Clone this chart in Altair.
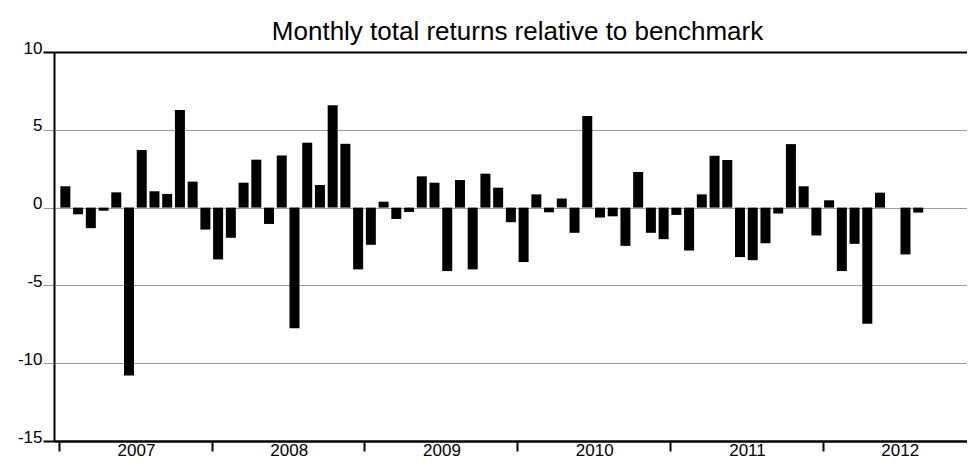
import altair as alt
import pandas as pd

# Monthly relative returns, Jan 2007 .. Aug 2012
start_year = 2007
values = [1.37, -0.43, -1.32, -0.20, 0.98, -10.79, 3.70, 1.05, 0.88, 6.28, 1.67, -1.41,
          -3.33, -1.94, 1.60, 3.08, -1.05, 3.35, -7.76, 4.17, 1.45, 6.58, 4.10, -3.97,
          -2.39, 0.38, -0.73, -0.28, 2.01, 1.60, -4.08, 1.77, -3.97, 2.18, 1.28, -0.94,
          -3.50, 0.85, -0.30, 0.58, -1.62, 5.88, -0.64, -0.56, -2.46, 2.29, -1.62, -2.03,
          -0.47, -2.76, 0.85, 3.33, 3.06, -3.18, -3.38, -2.29, -0.38, 4.08, 1.37, -1.79,
          0.47, -4.08, -2.33, -7.46, 0.96, 0.00, -3.01, -0.32]
y_ticks = [-15, -10, -5, 0, 5, 10]
year_ticks = [0, 12, 24, 36, 48, 60]

df = pd.DataFrame({"idx": list(range(len(values))), "ret": values})

FONT = "Liberation Sans"
EDGE = "datum.value == 10 || datum.value == -15"

chart = alt.Chart(df).transform_calculate(
    mid="datum.idx + 0.5"
).mark_bar(color="black", width=10).encode(
    x=alt.X("mid:Q",
            scale=alt.Scale(domain=[0, 70.94], nice=False, zero=False),
            axis=alt.Axis(values=year_ticks, title=None,
                          labelExpr=f"'' + ({start_year} + datum.value / 12)",
                          labelOffset=77, labelFlush=False, labelOverlap=False,
                          labelBound=False, labelPadding=-9,
                          tickSize=10, tickWidth=2, tickColor="black",
                          domainColor="black", domainWidth=2, grid=False,
                          labelFontSize=17, labelFont=FONT, labelColor="black")),
    y=alt.Y("ret:Q",
            scale=alt.Scale(domain=[-15, 10], nice=False),
            axis=alt.Axis(values=y_ticks, title=None,
                          labelExpr="'' + datum.value",
                          tickSize=11, labelPadding=1,
                          tickColor={"condition": {"test": EDGE, "value": "black"}, "value": "#9a9a9a"},
                          tickWidth={"condition": {"test": EDGE, "value": 2}, "value": 1},
                          grid=True,
                          gridColor={"condition": {"test": EDGE, "value": "black"}, "value": "#9a9a9a"},
                          gridWidth={"condition": {"test": EDGE, "value": 2}, "value": 1},
                          domainColor="black", domainWidth=2,
                          labelBaseline="alphabetic", labelOffset=1,
                          labelFontSize=17, labelFont=FONT, labelColor="black",
                          minExtent=46, maxExtent=46)),
).properties(
    width=913,
    height=389,
    padding={"left": 0, "top": 11, "right": 0, "bottom": 0},
    title=alt.TitleParams("Monthly total returns relative to benchmark",
                          fontSize=26, font=FONT, fontWeight="normal",
                          color="black", offset=-6, anchor="middle", dx=7),
).configure_view(strokeWidth=0)

chart.save("out.html", embed_options={"renderer": "svg", "actions": False})
